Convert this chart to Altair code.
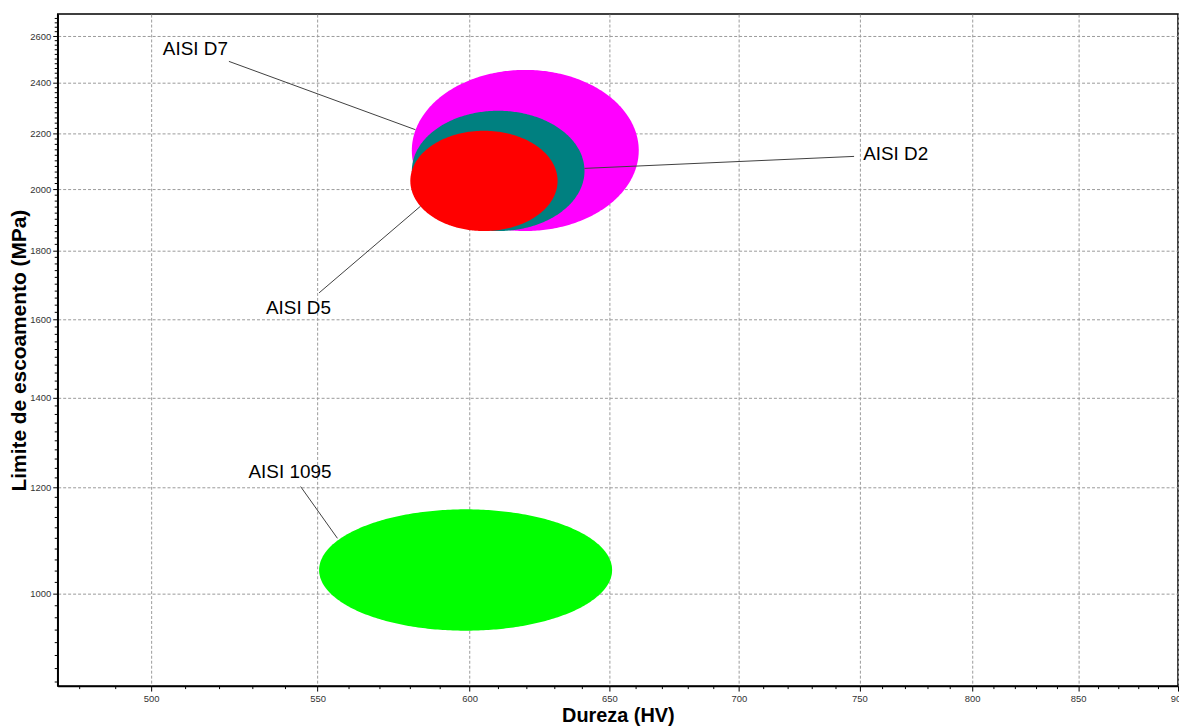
import numpy as np
import pandas as pd
import altair as alt

# ---- data ----
materials = ["AISI D7", "AISI D2", "AISI D5", "AISI 1095"]
hv_min = [580.5, 580.5, 580.0, 550.5]
hv_max = [661.0, 640.8, 631.0, 651.0]
ys_min = [1862, 1862, 1862, 939]
ys_max = [2454, 2288, 2211, 1156]
fill_colors = ["#FF00FF", "#008080", "#FF0000", "#00FF00"]

# annotation (label position and leader line ends), in data units
label_x = [503.4, 751.6, 534.0, 528.7]
label_y = [2543, 2123, 1633, 1233]
lead_x1 = [522.8, 747.7, 550.5, 544.7]
lead_y1 = [2490, 2116, 1675, 1202]
lead_x2 = [581.7, 640.8, 583.4, 556.3]
lead_y2 = [2215, 2073, 1943, 1100]

x_ticks = [500, 550, 600, 650, 700, 750, 800, 850, 900]
y_ticks = [1000, 1200, 1400, 1600, 1800, 2000, 2200, 2400, 2600]
x_minor = [v for v in range(480, 900, 10) if v % 50 != 0]
y_minor = [v for v in range(860, 2700, 20) if v % 200 != 0]

X_DOMAIN = [474, 900]
Y_DOMAIN = [854, 2700]
W, H = 1127, 676
FONT = "Liberation Sans"

# ---- ellipse outlines (ellipses in log-log space) ----
rows = []
t = np.linspace(0, np.pi, 181)
for m, a, b, c, d in zip(materials, hv_min, hv_max, ys_min, ys_max):
    cx = (np.log10(a) + np.log10(b)) / 2
    rx = (np.log10(b) - np.log10(a)) / 2
    cy = (np.log10(c) + np.log10(d)) / 2
    ry = (np.log10(d) - np.log10(c)) / 2
    for tt in t:
        rows.append({
            "mat": m,
            "x": 10 ** (cx + rx * np.cos(tt)),
            "y": 10 ** (cy + ry * np.sin(tt)),
            "y2": 10 ** (cy - ry * np.sin(tt)),
        })
ell = pd.DataFrame(rows)

xscale = alt.Scale(type="log", domain=X_DOMAIN, nice=False, zero=False)
yscale = alt.Scale(type="log", domain=Y_DOMAIN, nice=False, zero=False)

x_axis = alt.Axis(values=x_ticks, format="d", grid=True, gridDash=[3, 2],
                  gridColor="#9a9a9a", gridWidth=1, tickSize=5, tickColor="#000",
                  domainColor="#000", domainWidth=1.5, labelFontSize=9.5,
                  labelColor="#333", labelPadding=2, labelFlush=False,
                  labelOverlap=False, title="Dureza (HV)", titleFontSize=20,
                  titleFontWeight="bold", titleColor="#000", titlePadding=3)
y_axis = alt.Axis(values=y_ticks, format="d", grid=True, gridDash=[3, 2],
                  gridColor="#9a9a9a", gridWidth=1, tickSize=5, tickColor="#000",
                  domainColor="#000", domainWidth=1.5, labelFontSize=9.5,
                  labelColor="#333", labelPadding=2, labelOverlap=False,
                  title="Limite de escoamento (MPa)", titleFontSize=21,
                  titleFontWeight="bold", titleColor="#000", titlePadding=0)


def X(field):
    return alt.X(field, scale=xscale, axis=x_axis, title="Dureza (HV)")


def Y(field):
    return alt.Y(field, scale=yscale, axis=y_axis,
                 title="Limite de escoamento (MPa)", stack=None)


layers = []
for m, fc in zip(materials, fill_colors):
    layer = alt.Chart(ell).transform_filter(
        alt.datum.mat == m
    ).mark_area(color=fc, opacity=1, clip=True, interpolate="linear").encode(
        x=X("x:Q"),
        y=Y("y:Q"),
        y2="y2:Q",
    )
    layers.append(layer)

ann = pd.DataFrame({
    "mat": materials, "lx": label_x, "ly": label_y,
    "x1": lead_x1, "y1": lead_y1, "x2": lead_x2, "y2": lead_y2,
})

leaders = alt.Chart(ann).mark_rule(color="#404040", strokeWidth=1).encode(
    x=X("x1:Q"),
    y=Y("y1:Q"),
    x2="x2:Q",
    y2="y2:Q",
)

labels = alt.Chart(ann).mark_text(align="left", baseline="middle", fontSize=19,
                                  font=FONT, color="#000").encode(
    x=X("lx:Q"),
    y=Y("ly:Q"),
    text="mat:N",
)

xm = alt.Chart(pd.DataFrame({"v": x_minor})).mark_rule(color="#000", strokeWidth=1).encode(
    x=X("v:Q"),
    y=alt.value(H),
    y2=alt.value(H + 3),
)
ym = alt.Chart(pd.DataFrame({"v": y_minor})).mark_rule(color="#000", strokeWidth=1).encode(
    y=Y("v:Q"),
    x=alt.value(0),
    x2=alt.value(-3),
)

chart = alt.layer(*layers, leaders, labels, xm, ym).properties(
    width=W, height=H,
    autosize=alt.AutoSizeParams(type="none"),
    padding={"left": 50, "top": 4, "right": 1, "bottom": 40},
).configure(font=FONT).configure_view(
    stroke="#000", strokeWidth=1.5
).configure_axis(labelFont=FONT, titleFont=FONT)

chart.save("out.html", embed_options={"renderer": "svg", "actions": False})
